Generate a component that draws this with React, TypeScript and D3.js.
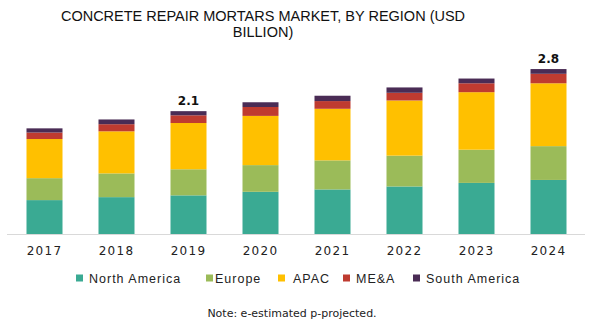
import React from "react";
import * as d3 from "d3";

const years = ["2017", "2018", "2019", "2020", "2021", "2022", "2023", "2024"];
const northAmerica = [0.58, 0.63, 0.66, 0.72, 0.76, 0.81, 0.87, 0.92];
const europe = [0.37, 0.4, 0.44, 0.45, 0.49, 0.52, 0.56, 0.57];
const apac = [0.66, 0.71, 0.78, 0.83, 0.87, 0.93, 0.97, 1.06];
const mea = [0.11, 0.12, 0.13, 0.15, 0.13, 0.13, 0.15, 0.16];
const southAmerica = [0.07, 0.08, 0.07, 0.08, 0.09, 0.09, 0.08, 0.08];
const totalLabels = ["", "", "2.1", "", "", "", "", "2.8"];
const seriesNames = ["North America", "Europe", "APAC", "ME&A", "South America"];
const colors = ["#3AAA93", "#9BBB59", "#FFC000", "#BF3B30", "#4A2C55"];

const W = 592;
const H = 329;

export default function App() {
  const seriesValues = [northAmerica, europe, apac, mea, southAmerica];
  const rows = years.map((y, i) => {
    const r: any = { year: y };
    seriesNames.forEach((s, k) => (r[s] = seriesValues[k][i]));
    return r;
  });
  const stack = d3.stack().keys(seriesNames)(rows);
  const x = d3.scaleBand().domain(years).range([8.5, 584.5]).paddingInner(0.5).paddingOuter(0.25);
  const y = d3.scaleLinear().domain([0, 3]).range([234.5, 234.5 - 3 * 59.3]);

  const legendText = [89, 215, 293, 356, 426];
  const legendSq = [76, 206, 278, 343, 413];

  return (
    <svg width={W} height={H} style={{ position: "absolute", left: 0, top: 0, background: "#fff" }}>
      <text x={263} y={21} textAnchor="middle" fontFamily="Liberation Sans, Arial, sans-serif" fontSize={14.5} fill="#111">
        CONCRETE REPAIR MORTARS MARKET, BY REGION (USD
      </text>
      <text x={263} y={37} textAnchor="middle" fontFamily="Liberation Sans, Arial, sans-serif" fontSize={14.5} fill="#111">
        BILLION)
      </text>
      {stack.map((s, k) => (
        <g key={k} fill={colors[k]}>
          {s.map((d, i) => (
            <rect key={i} x={x(years[i])} width={x.bandwidth()} y={y(d[1])} height={y(d[0]) - y(d[1])} />
          ))}
        </g>
      ))}
      <line x1={7} x2={585} y1={234.5} y2={234.5} stroke="#D9D9D9" strokeWidth={1} />
      {years.map((yr, i) => (
        <text key={yr} x={(x(yr) as number) + x.bandwidth() / 2} y={255} textAnchor="middle"
          fontFamily="DejaVu Sans, Verdana, sans-serif" fontSize={12} letterSpacing={1.3} fill="#222">
          {yr}
        </text>
      ))}
      {totalLabels.map((l, i) => {
        if (!l) return null;
        const top = stack[stack.length - 1][i][1];
        return (
          <text key={i} x={(x(years[i]) as number) + x.bandwidth() / 2} y={y(top) - 6.5} textAnchor="middle"
            fontFamily="DejaVu Sans, Verdana, sans-serif" fontSize={12} fontWeight="bold" fill="#111">
            {l}
          </text>
        );
      })}
      {seriesNames.map((s, k) => (
        <g key={s}>
          <rect x={legendSq[k]} y={274.5} width={7} height={7} fill={colors[k]} />
          <text x={legendText[k]} y={282.5} fontFamily="Liberation Sans, Arial, sans-serif" fontSize={12.5}
            letterSpacing={1.0} fill="#222">
            {s}
          </text>
        </g>
      ))}
      <text x={292} y={317} textAnchor="middle" fontFamily="DejaVu Sans, Verdana, sans-serif" fontSize={11} fill="#222">
        Note: e-estimated p-projected.
      </text>
    </svg>
  );
}
